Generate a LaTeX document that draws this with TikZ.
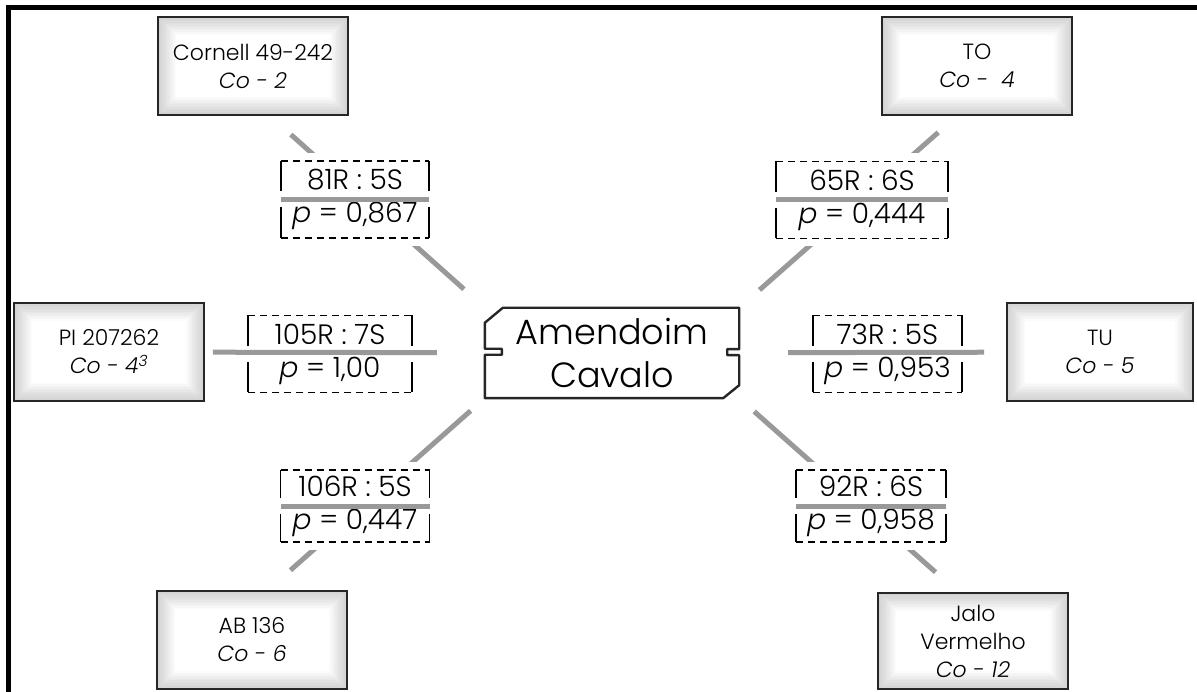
\documentclass[tikz,border=0pt]{standalone}
\usepackage{fontspec}
\setmainfont{Poppins}[UprightFont=* Light, ItalicFont=* Light Italic]
\definecolor{barra}{gray}{0.6}
\definecolor{contorno}{gray}{0.15}
\tikzset{
  caixa/.style={draw=contorno, line width=1.8pt, fill=white, minimum width=190pt, minimum height=98pt, inner sep=0pt, align=center, font=\fontsize{22}{28}\selectfont,
    path picture={\foreach \i in {1,...,12}
      \draw[gray, opacity=0.03, line width=3*\i pt] (path picture bounding box.south west) rectangle (path picture bounding box.north east);}},
  razao/.style={fill=white, draw=white, line width=16pt, outer sep=0pt, minimum width=148pt, minimum height=77pt, inner sep=0pt, align=center, font=\fontsize{28}{33}\selectfont},
  ligacao/.style={draw=barra, line width=5pt},
  colchete/.style={line width=1.4pt},
  bilhete/.style={draw=contorno, line width=2.4pt, line join=round},
}
\begin{document}
\begin{tikzpicture}[x=1pt, y=-1pt]
    \useasboundingbox (0,0) rectangle (1197,692);
    % Moldura
    \fill (6,5) rectangle (1197,10);
    \fill (6,5) rectangle (11,692);
    % Caixas das cultivares
    \node[caixa] (cornell) at (253,66) {Cornell 49-242\\\textit{Co - 2}};
    \node[caixa] (cto) at (977,66) {TO\\\textit{Co -~~4}};
    \node[caixa] (pi) at (109,352) {PI 207262\\\textit{Co - 4\textsuperscript{3}}};
    \node[caixa, minimum width=186pt] (ctu) at (1100,352) {TU\\\textit{Co - 5}};
    \node[caixa] (ab) at (252,640) {AB 136\\\textit{Co - 6}};
    \node[caixa, minimum height=96pt] (jalo) at (973,641) {Jalo\\Vermelho\\\textit{Co - 12}};
    % Centro
    \node[inner sep=0pt, minimum width=254pt, minimum height=90pt, align=center, font=\fontsize{35}{43}\selectfont] (amendoim) at (612,353) {Amendoim\\Cavalo};
    \draw[bilhete] ([yshift=-15pt]amendoim.north west) -- ++(0,26) -- ++(17,0) -- ++(0,6) -- ++(-17,0)
        |- ([xshift=-16pt]amendoim.south east) -- ++(16,-13) -- ++(0,-30) -- ++(-12,0) -- ++(0,-6) -- ++(12,0)
        |- ([xshift=18pt]amendoim.north west) -- cycle;
    % Ligações diagonais
    \draw[ligacao, shorten <=28pt, shorten >=28pt] ([xshift=17pt]cornell.south) -- (amendoim.north west);
    \draw[ligacao, shorten <=25pt, shorten >=27pt] ([xshift=-20pt]cto.south) -- (amendoim.north east);
    \draw[ligacao, shorten <=30pt, shorten >=19pt] ([xshift=16pt]ab.north) -- (amendoim.south west);
    \draw[ligacao, shorten <=30pt, shorten >=20pt] ([xshift=-15pt]jalo.north) -- (amendoim.south east);
    % Razões
    \node[razao] (r1) at (355,199.5) {81R : 5S\\\textit{p} = 0,867};
    \node[razao, minimum width=172pt] (r2) at (862,200) {65R : 6S\\\textit{p} = 0,444};
    \node[razao, minimum width=164pt] (r3) at (330,354) {105R : 7S\\\textit{p} = 1,00};
    \node[razao, minimum width=149pt] (r4) at (887.5,354) {73R : 5S\\\textit{p} = 0,953};
    \node[razao, minimum width=149pt, minimum height=72pt] (r5) at (355,506) {106R : 5S\\\textit{p} = 0,447};
    \node[razao, minimum width=150pt, minimum height=72pt] (r6) at (871,506) {92R : 6S\\\textit{p} = 0,958};
    \foreach \r in {r1,r2,r3,r4,r5,r6}{
        \draw[colchete, dash pattern=on 7pt off 5pt] (\r.north west) -- (\r.north east) (\r.south west) -- (\r.south east);
        \draw[colchete] (\r.north west) -- ([yshift=8pt]\r.west) ([yshift=-8pt]\r.west) -- (\r.south west)
            (\r.north east) -- ([yshift=8pt]\r.east) ([yshift=-8pt]\r.east) -- (\r.south east);
    }
    \foreach \r in {r1,r2,r5,r6}
        \draw[ligacao] (\r.west) -- (\r.east);
    % Ligações horizontais
    \draw[ligacao, shorten <=8pt, shorten >=48pt] (pi) -- (amendoim);
    \draw[ligacao, shorten <=49pt, shorten >=22pt] (amendoim) -- (ctu);
\end{tikzpicture}
\end{document}
